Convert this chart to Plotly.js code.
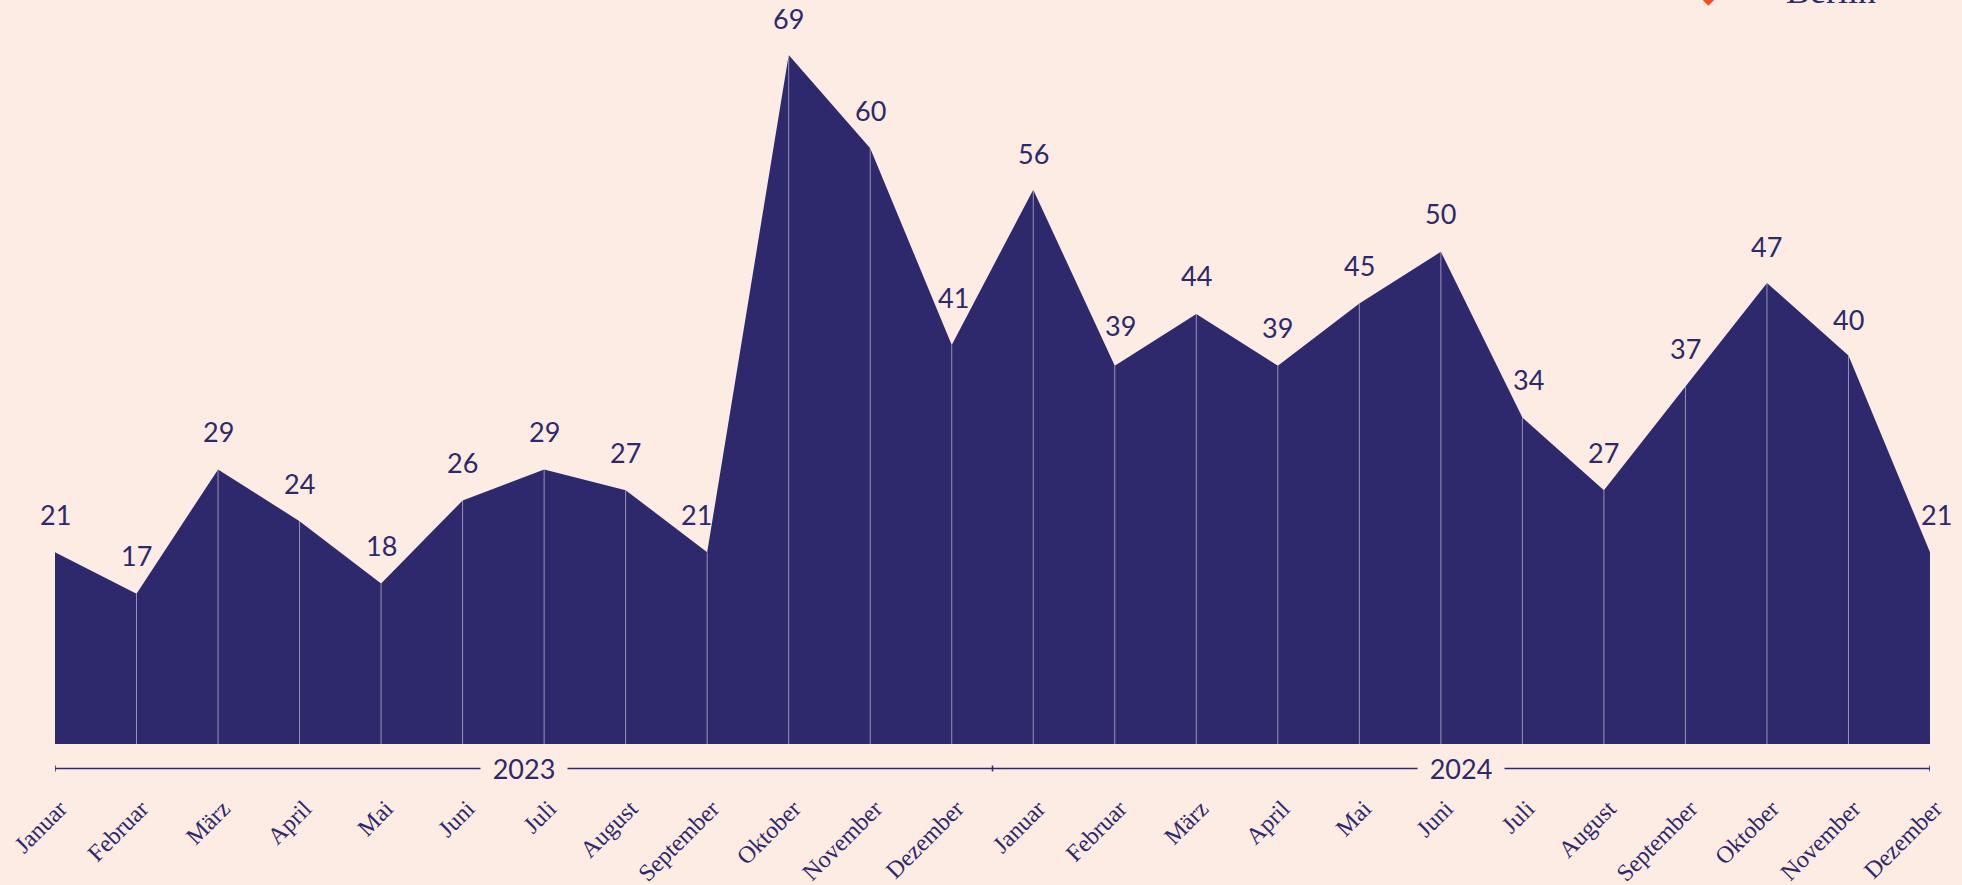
<!DOCTYPE html>
<html>
<head>
<meta charset="utf-8">
<script src="https://cdn.plot.ly/plotly-3.0.1.min.js"></script>
<style>html,body{margin:0;padding:0;background:#fdece4;overflow:hidden}</style>
</head>
<body>
<div id="chart" style="width:1962px;height:885px"></div>
<script>
const months = ["Januar","Februar","März","April","Mai","Juni","Juli","August","September","Oktober","November","Dezember",
                "Januar","Februar","März","April","Mai","Juni","Juli","August","September","Oktober","November","Dezember"];
const values = [21,17,29,24,18,26,29,27,21,69,60,41,56,39,44,39,45,50,34,27,37,47,40,21];
const years = ["2023","2024"];
const yearSpans = [[0,11.5],[11.5,23]];
const nudgeX = {8:-11, 11:2, 13:6, 18:6, 23:6};
const nudgeY = {11:10, 13:2, 12:-2, 9:-2, 21:-2, 22:-2};

const INK = "#2e286c", BG = "#fdece4";
const SANS = "Lato, sans-serif", SERIF = "'Liberation Serif', serif";
const xs = months.map((_,i)=>i);
const yMin = 2.5, yMax = 74.3;

const area = {x:xs, y:values, type:"scatter", mode:"lines", fill:"tozeroy",
  fillcolor:INK, line:{color:INK,width:0}, hoverinfo:"x+y", showlegend:false};

const dx=[], dy=[];
xs.slice(1,-1).forEach(i=>{dx.push(i,i,null); dy.push(yMin,values[i],null);});
const dividers = {x:dx, y:dy, type:"scatter", mode:"lines",
  line:{color:"rgba(255,255,255,0.5)",width:1}, hoverinfo:"skip", showlegend:false};

const annotations = values.map((v,i)=>({x:i,y:v,xref:"x",yref:"y",text:String(v),showarrow:false,
  xanchor:"center",yanchor:"middle",yshift:38+(nudgeY[i]||0),xshift:nudgeX[i]||0,
  font:{family:SANS,size:27,color:INK}}));

const yearY = -24.5/744;
const shapes = [];
yearSpans.forEach((s,k)=>{
  shapes.push({type:"line",xref:"x",yref:"paper",x0:s[0],x1:s[1],y0:yearY,y1:yearY,line:{color:INK,width:1.5}});
  annotations.push({x:(s[0]+s[1])/2,y:yearY,xref:"x",yref:"paper",text:years[k],showarrow:false,
    xanchor:"center",yanchor:"middle",bgcolor:BG,borderpad:0,width:86,
    font:{family:SANS,size:27,color:INK}});
});
[0,11.5,23].forEach(x=>shapes.push({type:"line",xref:"x",yref:"paper",x0:x,x1:x,y0:yearY+3/744,y1:yearY-3/744,line:{color:INK,width:1.5}}));

// clipped logo remnant at the top edge
annotations.push({xref:"paper",yref:"paper",x:(1831-55)/1875,y:1,yanchor:"bottom",xanchor:"center",yshift:-13,
  text:"Berlin",showarrow:false,font:{family:SERIF,size:36,color:INK}});
annotations.push({xref:"paper",yref:"paper",x:(1708-55)/1875,y:1,yanchor:"bottom",xanchor:"center",yshift:-10,
  text:"◆",showarrow:false,font:{family:"'DejaVu Sans'",size:22,color:"#f0501e"}});

Plotly.newPlot("chart",[area,dividers],{
  width:1962,height:885,
  margin:{l:55,r:32,t:0,b:141,pad:0},
  paper_bgcolor:BG,plot_bgcolor:BG,showlegend:false,
  xaxis:{range:[0,23],tickmode:"array",tickvals:xs,ticktext:months,tickangle:-45,
    ticks:"outside",ticklen:40,tickcolor:"rgba(0,0,0,0)",showgrid:false,zeroline:false,showline:false,
    ticklabelshift:5,
    tickfont:{family:SERIF,size:24,color:INK}},
  yaxis:{range:[yMin,yMax],visible:false,showgrid:false,zeroline:false},
  annotations,shapes
},{displayModeBar:false});
</script>
</body>
</html>
